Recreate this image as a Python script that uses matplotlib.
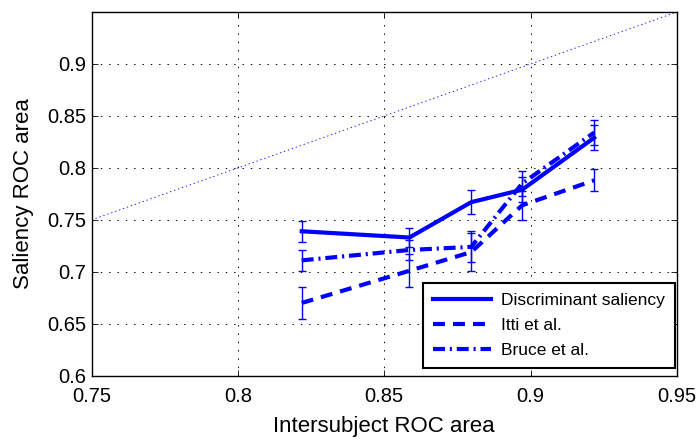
import numpy as np
import matplotlib
matplotlib.use("Agg")
import matplotlib.pyplot as plt

# --- data ---
x_subj = [0.8218, 0.8586, 0.8797, 0.8971, 0.9217]

disc = [0.739, 0.733, 0.767, 0.779, 0.829]
disc_err = [0.010, 0.0095, 0.0115, 0.012, 0.012]

itti = [0.670, 0.701, 0.719, 0.764, 0.788]
itti_err = [0.0155, 0.016, 0.018, 0.014, 0.0105]

bruce = [0.711, 0.721, 0.724, 0.785, 0.834]
bruce_err = [0.010, 0.010, 0.015, 0.012, 0.012]

labels = ["Discriminant saliency", "Itti et al.", "Bruce et al."]
xticks = [0.75, 0.8, 0.85, 0.9, 0.95]
yticks = [0.6, 0.65, 0.7, 0.75, 0.8, 0.85, 0.9]

plt.rcParams["font.family"] = ["Liberation Sans", "DejaVu Sans"]
plt.rcParams["lines.scale_dashes"] = False

BLUE = (0, 0, 1)

fig = plt.figure(figsize=(6.96, 4.41), dpi=100)
ax = fig.add_axes([0.1315, 0.148, 0.8412, 0.8248])

# diagonal y = x
ax.plot([0.75, 0.95], [0.75, 0.95], color=BLUE, lw=0.6, ls=(0, (1, 2)), zorder=1)

styles = [
    (disc, disc_err, "-"),
    (itti, itti_err, (0, (8.6, 5.8))),
    (bruce, bruce_err, (0, (8.6, 3.5, 1.5, 3.5))),
]
handles = []
for (y, e, ls), lab in zip(styles, labels):
    ax.errorbar(x_subj, y, yerr=e, fmt="none", ecolor=BLUE, elinewidth=1.0,
                capsize=3.0, capthick=1.0, zorder=2)
    h, = ax.plot(x_subj, y, color=BLUE, lw=3.0, ls=ls, label=lab, zorder=3)
    handles.append(h)

ax.set_xlim(0.75, 0.95)
ax.set_ylim(0.6, 0.95)
ax.set_xticks(xticks)
ax.set_yticks(yticks)
ax.set_xticklabels([f"{v:g}" for v in xticks])
ax.set_yticklabels([f"{v:g}" for v in yticks])
ax.tick_params(direction="in", length=4, width=0.6, labelsize=14.5,
               top=True, right=True)
ax.tick_params(axis="x", pad=8)
ax.tick_params(axis="y", pad=4)
ax.grid(True, color="black", ls=(0, (1, 5)), lw=0.7)
for s in ax.spines.values():
    s.set_linewidth(1.0)

ax.set_xlabel("Intersubject ROC area", fontsize=16, labelpad=7)
ax.set_ylabel("Saliency ROC area", fontsize=16, labelpad=9)

leg = ax.legend(handles=handles, loc="lower right",
                bbox_to_anchor=(0.997, 0.021), borderaxespad=0,
                fontsize=12.5, handlelength=3.3, labelspacing=0.55,
                fancybox=False, framealpha=1, edgecolor="black",
                borderpad=0.6, handletextpad=0.6)
leg.get_frame().set_linewidth(1.5)

fig.savefig("out.png", dpi=100)
